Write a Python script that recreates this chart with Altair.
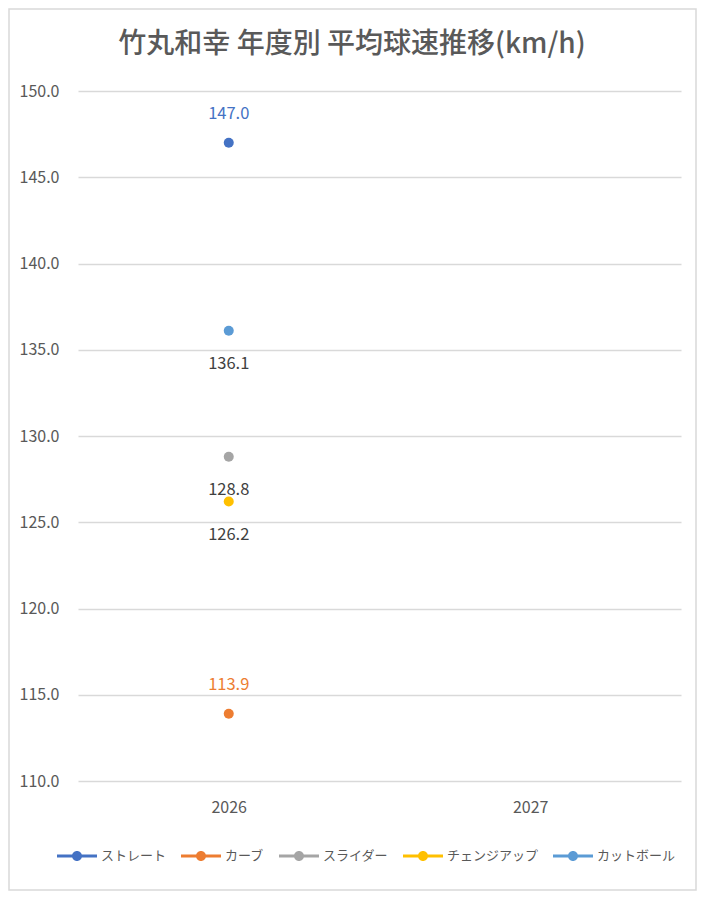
import altair as alt
import pandas as pd

# ---- data ----
years = ["2026", "2027"]
series = ["ストレート", "カーブ", "スライダー", "チェンジアップ", "カットボール"]
speed_2026 = [147.0, 113.9, 128.8, 126.2, 136.1]
colors = ["#4472C4", "#ED7D31", "#A5A5A5", "#FFC000", "#5B9BD5"]
labels_above = ["ストレート", "カーブ"]
y_ticks = [110, 115, 120, 125, 130, 135, 140, 145, 150]
title_text = "竹丸和幸 年度別 平均球速推移(km/h)"

df = pd.DataFrame({"year": ["2026"] * len(series), "series": series, "speed": speed_2026})

W, H = 603, 690
PAD = {"left": 70, "top": 83, "right": 16, "bottom": 110}

font = "Noto Sans CJK JP"
grey = "#595959"

x_enc = alt.X("year:N", scale=alt.Scale(domain=years, paddingInner=0, paddingOuter=0),
              axis=alt.Axis(title=None, labelAngle=0, labelFontSize=16, labelColor=grey,
                            labelPadding=18, ticks=False, domain=False, grid=False, labelFont=font))
y_enc = alt.Y("speed:Q", scale=alt.Scale(domain=[110, 150], nice=False, zero=False),
              axis=alt.Axis(title=None, values=y_ticks, format=".1f", labelFontSize=16,
                            labelColor=grey, labelPadding=19, ticks=False, domain=False,
                            grid=True, gridColor="#D9D9D9", gridWidth=1.3, labelFont=font))

# line-with-dot legend glyph (filled rectangle + circle)
legend_path = ("M-1,-0.075L1,-0.075L1,0.075L-1,0.075Z"
               "M0.25,0A0.25,0.25 0 1,1 -0.25,0A0.25,0.25 0 1,1 0.25,0Z")

color_enc = alt.Color("series:N", scale=alt.Scale(domain=series, range=colors),
                      legend=alt.Legend(title=None, orient="none", direction="horizontal",
                                        legendX=-21, legendY=745,
                                        symbolType=legend_path, symbolSize=1600,
                                        symbolStrokeWidth=0, labelFontSize=13,
                                        labelColor=grey, labelFont=font, columnPadding=14,
                                        labelOffset=4, symbolOpacity=1))

base = alt.Chart(df)

points = base.mark_point(filled=True, size=100, opacity=1).encode(
    x=x_enc, y=y_enc, color=color_enc)

text_above = base.transform_filter(
    alt.FieldOneOfPredicate(field="series", oneOf=labels_above)
).mark_text(dy=-29, fontSize=16.5, font=font).encode(
    x="year:N", y="speed:Q", text=alt.Text("speed:Q", format=".1f"),
    color=alt.Color("series:N", scale=alt.Scale(domain=series, range=colors), legend=None))

text_below = base.transform_filter(
    ~alt.FieldOneOfPredicate(field="series", oneOf=labels_above)
).mark_text(dy=33, fontSize=16.5, font=font, color="#404040").encode(
    x="year:N", y="speed:Q", text=alt.Text("speed:Q", format=".1f"))

one = pd.DataFrame({"a": [0]})

border = alt.Chart(one).mark_rect(
    fill="transparent", stroke="#D9D9D9", strokeWidth=1.5).encode(
    x=alt.value(-PAD["left"] + 1), x2=alt.value(W + PAD["right"] - 1),
    y=alt.value(-PAD["top"] + 1), y2=alt.value(H + PAD["bottom"] - 1))

title = alt.Chart(one).mark_text(
    text=title_text, fontSize=28, font=font, fontWeight=500, color=grey,
    align="center", baseline="middle").encode(
    x=alt.value(274), y=alt.value(-46))

chart = alt.layer(border, title, points, text_above, text_below).properties(
    width=W, height=H,
    autosize=alt.AutoSizeParams(type="none"),
    padding=PAD,
    background="white",
).configure_view(stroke="transparent", strokeWidth=0)

chart.save("out.html", embed_options={"renderer": "svg", "actions": False})
